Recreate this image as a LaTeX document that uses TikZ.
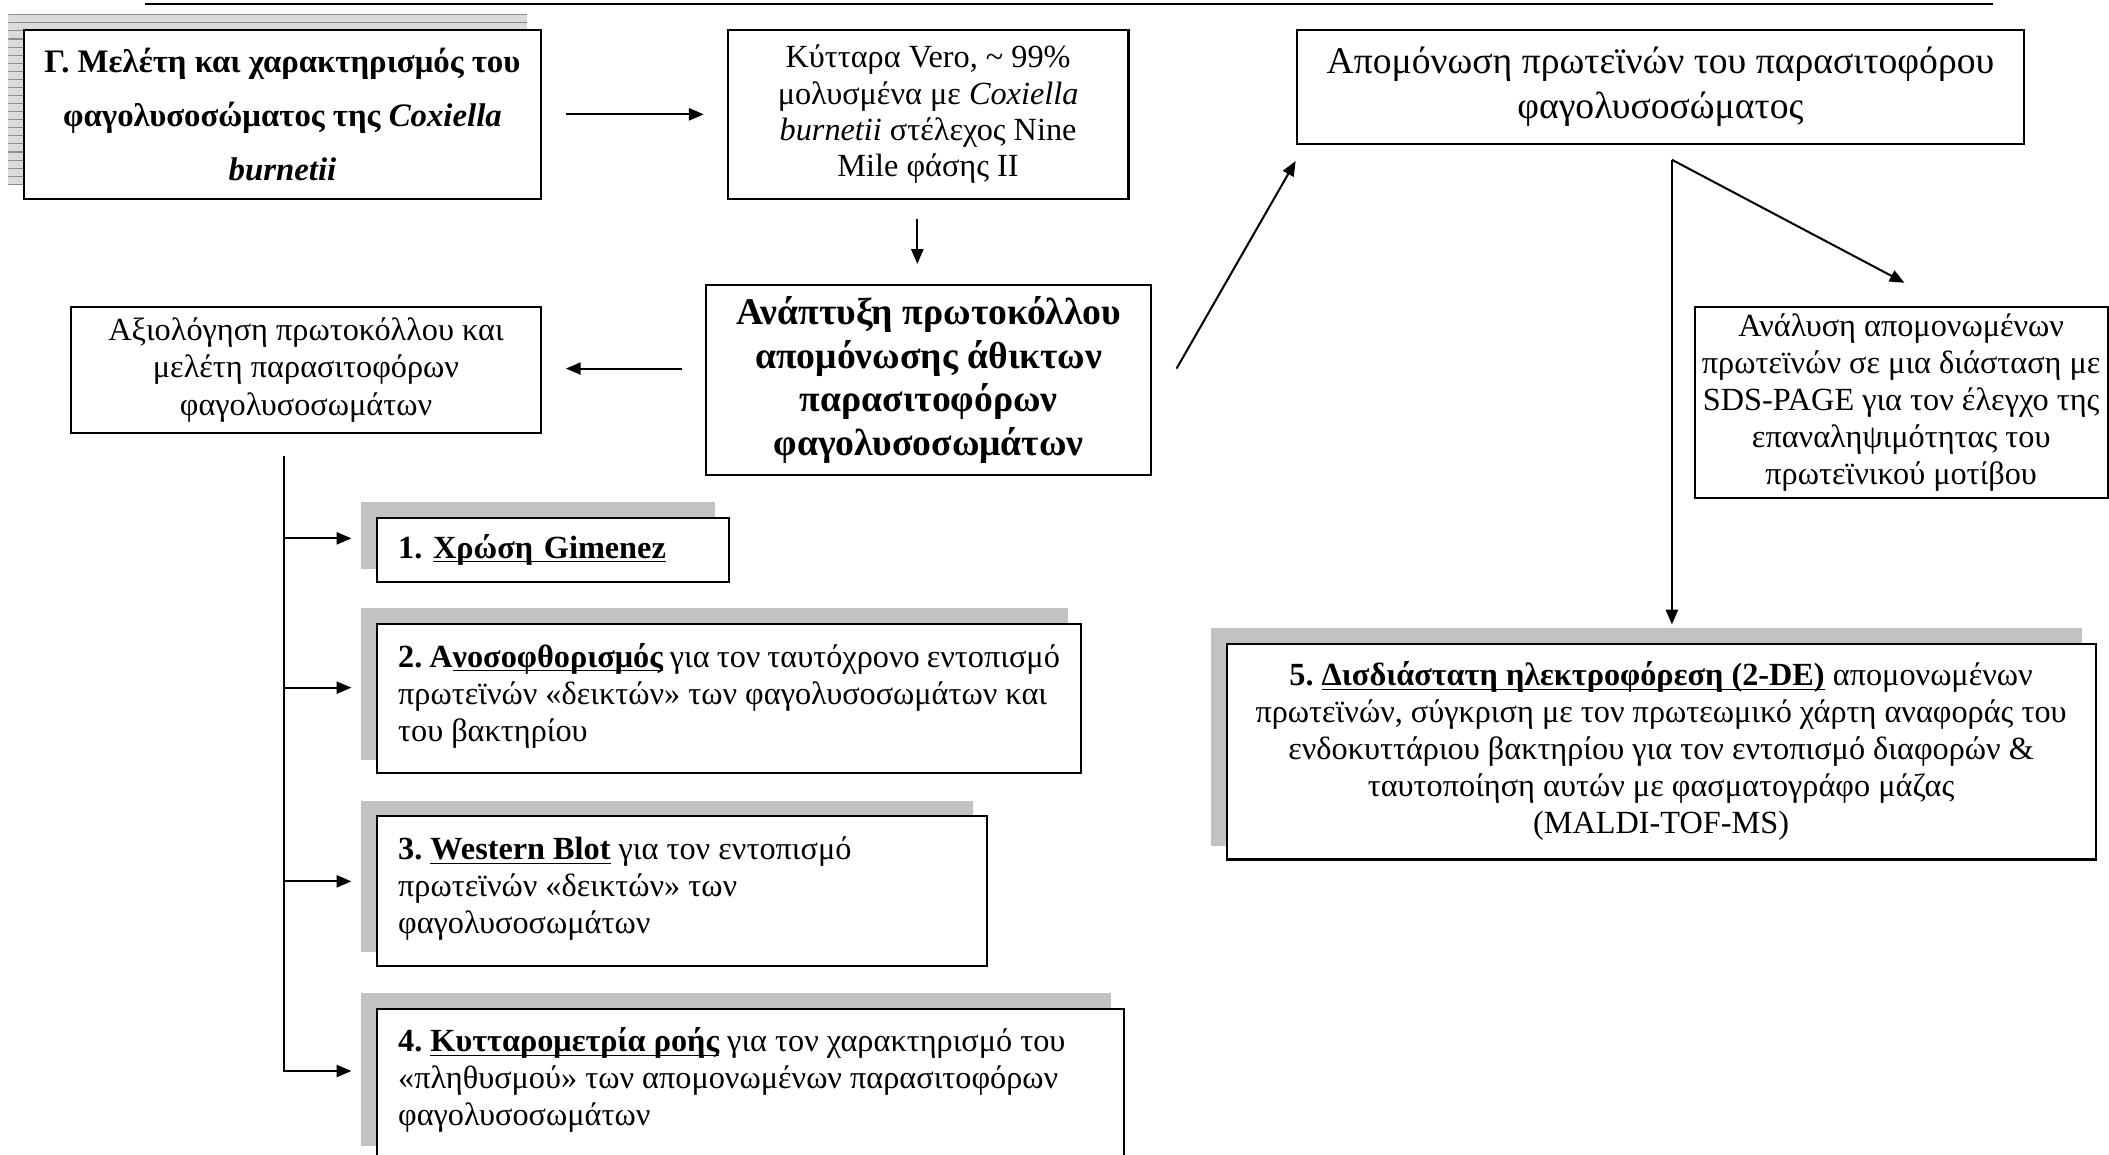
\documentclass[tikz,border=0pt]{standalone}
\usepackage{fontspec}
\setmainfont{Liberation Serif}
\usetikzlibrary{arrows.meta,patterns,backgrounds}
\frenchspacing
% underline drawn just below the baseline, crossing descenders
\newcommand\uln[1]{\underline{\smash{#1}}}

\begin{document}
\begin{tikzpicture}[
  x=0.5pt, y=-0.5pt,
  box/.style={draw, line width=0.75pt, fill=white, inner sep=0pt, align=center},
  body/.style={font=\fontsize{12}{13.75}\selectfont},
  leftbox/.style={box, inner xsep=8pt, inner ysep=0pt, align=left},
  arr/.style={line width=0.75pt, -{Triangle[length=5.5pt,width=4.5pt]}},
  link/.style={line width=0.75pt},
  rule/.style={line width=1pt},
  shade/.style={fill=black!24},
]
\useasboundingbox (0,0) rectangle (1568,858);

% rule across the top of the page
\draw[rule] (108,3) -- (1482,3);

% ---- main chain ----
\node[box, minimum width=192pt, minimum height=63pt,
      font=\bfseries\fontsize{12.2}{20}\selectfont] (title) at (210,85)
  {Γ. Μελέτη και χαρακτηρισμός του\\ φαγολυσοσώματος της \textit{Coxiella}\\ \textit{burnetii}};

\node[box, body, minimum width=149pt, minimum height=63pt,
      font=\fontsize{12}{13.5}\selectfont] (vero) at (690,85)
  {Κύτταρα Vero, \textasciitilde{} 99\%\\ μολυσμένα με \textit{Coxiella}\\ \textit{burnetii} στέλεχος Nine\\ Mile φάσης II};

\node[box, minimum width=165.5pt, minimum height=70.5pt,
      font=\bfseries\fontsize{14}{16.25}\selectfont] (anaptyxi) at (690.5,282.5)
  {Ανάπτυξη πρωτοκόλλου\\ απομόνωσης άθικτων\\ παρασιτοφόρων\\ φαγολυσοσωμάτων};

\node[box, minimum width=174.5pt, minimum height=47pt,
      font=\fontsize{12}{14}\selectfont] (axiologisi) at (227.5,275)
  {Αξιολόγηση πρωτοκόλλου και\\ μελέτη παρασιτοφόρων\\ φαγολυσοσωμάτων};

\node[box, minimum width=270.5pt, minimum height=42.5pt,
      font=\fontsize{14}{16.5}\selectfont] (apomonosi) at (1234.5,64.5)
  {Απομόνωση πρωτεϊνών του παρασιτοφόρου\\ φαγολυσοσώματος};

\node[box, body, minimum width=153.5pt, minimum height=71pt] (sds) at (1413.5,299)
  {Ανάλυση απομονωμένων\\ πρωτεϊνών σε μια διάσταση με\\ SDS-PAGE για τον έλεγχο της\\ επαναληψιμότητας του\\ πρωτεϊνικού μοτίβου};

% ---- numbered methods ----
\node[leftbox, body, text width=115pt, minimum height=24pt] (b1) at (411,409)
  {\textbf{1. \uln{Χρώση Gimenez}}};

\node[leftbox, body] (b2) at (542,519.5)
  {\parbox[c][55.5pt][t]{246pt}{\vspace*{7.5pt}%
   \textbf{2. Α\uln{νοσοφθορισμός}} για τον ταυτόχρονο εντοπισμό\\
   πρωτεϊνών «δεικτών» των φαγολυσοσωμάτων και\\
   του βακτηρίου}};

\node[leftbox, body] (b3) at (507,662.5)
  {\parbox[c][55.5pt][t]{211pt}{\vspace*{7.5pt}%
   \textbf{3. \uln{Western Blot}} για τον εντοπισμό\\
   πρωτεϊνών «δεικτών» των\\
   φαγολυσοσωμάτων}};

\node[leftbox, body] (b4) at (558,806)
  {\parbox[c][56pt][t]{262pt}{\vspace*{7.5pt}%
   \textbf{4. \uln{Κυτταρομετρία ροής}} για τον χαρακτηρισμό του\\
   «πληθυσμού» των απομονωμένων παρασιτοφόρων\\
   φαγολυσοσωμάτων}};

\node[box, body, minimum width=323pt, minimum height=80pt] (b5) at (1235,559)
  {\textbf{5. \uln{Δισδιάστατη ηλεκτροφόρεση (2-DE)}} απομονωμένων\\
   πρωτεϊνών, σύγκριση με τον πρωτεωμικό χάρτη αναφοράς του\\
   ενδοκυττάριου βακτηρίου για τον εντοπισμό διαφορών \&\\
   ταυτοποίηση αυτών με φασματογράφο μάζας\\
   (MALDI-TOF-MS)};

% ---- offset shadows behind the boxes ----
\begin{scope}[on background layer]
  \fill[black!14] ([shift={(-5.5pt,5.5pt)}]title.south west) rectangle ([shift={(-5.5pt,5.5pt)}]title.north east);
  \fill[pattern=horizontal lines, pattern color=black!45]
    ([shift={(-5.5pt,5.5pt)}]title.south west) rectangle ([shift={(-5.5pt,5.5pt)}]title.north east);
  \foreach \n in {b1,b2,b3,b4,b5}
    \fill[shade] ([shift={(-5.5pt,5.5pt)}]\n.south west) rectangle ([shift={(-5.5pt,5.5pt)}]\n.north east);
\end{scope}

% ---- connectors ----
\draw[arr] ([xshift=9pt]title.east) -- ([xshift=-8.5pt]vero.west);
\draw[arr] ([shift={(-4pt,-7pt)}]vero.south) -- ([shift={(-4.25pt,7.5pt)}]anaptyxi.north);
\draw[arr] ([shift={(-8.5pt,4.25pt)}]anaptyxi.west) -- ([shift={(9pt,0.5pt)}]axiologisi.east);
\draw[arr] ([shift={(9pt,4.25pt)}]anaptyxi.east) -- ([yshift=-6pt]apomonosi.south west);

\coordinate (fork) at ([shift={(4.25pt,-5.5pt)}]apomonosi.south);
\draw[arr] (fork) -- ([shift={(1.25pt,8.5pt)}]sds.north);
\draw[arr] (fork) -- ([shift={(4pt,7pt)}]b5.north);

% tree from the evaluation box to the four methods
\coordinate (trunk) at ([shift={(-8.25pt,-8pt)}]axiologisi.south);
\coordinate (t1) at ([shift={(-9pt,-8pt)}]b1.north west);
\coordinate (t2) at ([shift={(-9pt,-24pt)}]b2.north west);
\coordinate (t3) at ([shift={(-9pt,-24.5pt)}]b3.north west);
\coordinate (t4) at ([shift={(-9pt,-23.5pt)}]b4.north west);
\draw[arr] (trunk) |- (t4);
\draw[arr] (trunk |- t1) -- (t1);
\draw[arr] (trunk |- t2) -- (t2);
\draw[arr] (trunk |- t3) -- (t3);
\end{tikzpicture}
\end{document}
